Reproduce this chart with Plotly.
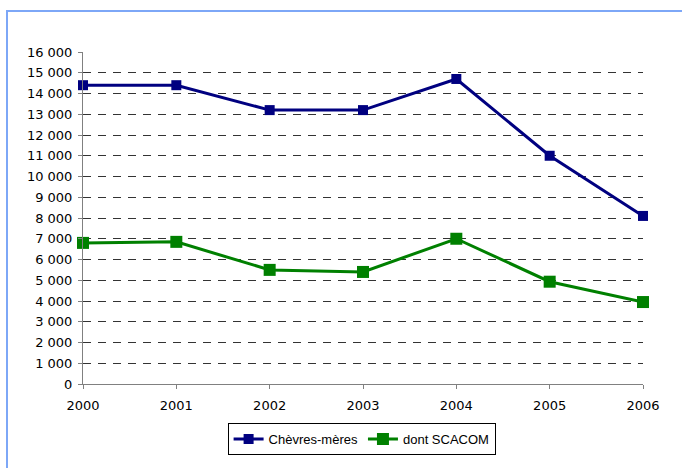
import plotly.graph_objects as go

# Goat herd figures by year
years = [2000, 2001, 2002, 2003, 2004, 2005, 2006]
chevres_meres = [14400, 14400, 13200, 13200, 14700, 11000, 8100]
dont_scacom = [6800, 6850, 5500, 5400, 7000, 4930, 3950]

y_tick_vals = list(range(0, 17000, 1000))
y_tick_text = ["0", "1 000", "2 000", "3 000", "4 000", "5 000", "6 000", "7 000",
               "8 000", "9 000", "10 000", "11 000", "12 000", "13 000", "14 000",
               "15 000", "16 000"]

fig = go.Figure()
fig.add_trace(go.Scatter(
    x=years, y=chevres_meres, name="Chèvres-mères", mode="lines+markers",
    line=dict(color="#000080", width=3),
    marker=dict(symbol="square", size=10, color="#000080"),
    cliponaxis=False,
))
fig.add_trace(go.Scatter(
    x=years, y=dont_scacom, name="dont SCACOM", mode="lines+markers",
    line=dict(color="#008000", width=3),
    marker=dict(symbol="square", size=12, color="#008000"),
    cliponaxis=False,
))

W, H = 682, 468
L, R, T, B = 83, 39, 52, 84
pw, ph = W - L - R, H - T - B

def px_x(p):
    return (p - L) / pw

def px_y(p):
    return (H - B - p) / ph

# Outer chart frame (light blue)
fig.add_shape(type="rect", xref="paper", yref="paper",
              x0=px_x(7), y0=px_y(11), x1=px_x(W + 20), y1=px_y(H + 20),
              line=dict(color="#7da7f7", width=2), fillcolor="rgba(0,0,0,0)",
              layer="below")

fig.update_layout(
    width=W, height=H,
    margin=dict(l=L, r=R, t=T, b=B),
    paper_bgcolor="white", plot_bgcolor="white",
    font=dict(family="DejaVu Sans", size=13, color="black"),
    showlegend=True,
    legend=dict(
        orientation="h", x=0.4975, xanchor="center", y=px_y(439), yanchor="middle",
        bordercolor="black", borderwidth=1, bgcolor="white",
        font=dict(family="Liberation Sans", size=13, color="black"),
        itemwidth=30, tracegroupgap=0,
    ),
    xaxis=dict(
        range=[2000, 2006], tickvals=years, ticktext=[str(y) for y in years],
        showgrid=False, zeroline=False,
        showline=True, linecolor="#808080", linewidth=1,
        ticks="outside", ticklen=4, tickcolor="#808080",
        ticklabelstandoff=5,
    ),
    yaxis=dict(
        range=[0, 16000], tickvals=y_tick_vals, ticktext=y_tick_text,
        showgrid=True, gridcolor="#333333", gridwidth=1, griddash="8px,7px",
        zeroline=False,
        showline=True, linecolor="#808080", linewidth=1,
        ticks="outside", ticklen=4, tickcolor="#808080",
        ticklabelstandoff=3,
    ),
)

fig.write_html("out.html")
